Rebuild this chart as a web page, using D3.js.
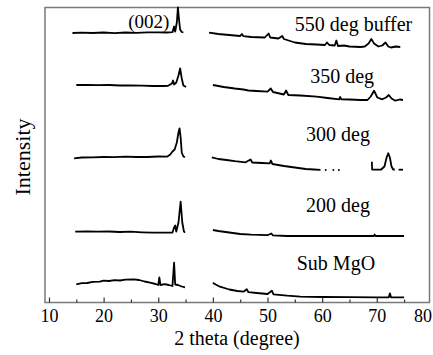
<!DOCTYPE html>
<html>
<head>
<meta charset="utf-8">
<script src="https://cdn.jsdelivr.net/npm/d3@7"></script>
<style>
  html, body { margin: 0; padding: 0; background: #fff; }
  svg { display: block; }
  svg text { font-family: "Liberation Serif", "Times New Roman", serif; fill: #000; }
</style>
</head>
<body>
<svg id="xrd" width="433" height="355"></svg>
<script>
// 2 theta (deg) / intensity (a.u., patterns stacked with offsets)
const sample550 = [
  [[14.3, 269.5], [16, 269.8], [18, 269.5], [20, 270], [22, 269.4], [24, 270], [26, 269.7], [28, 270.1],
   [30, 270.2], [31.5, 270], [32.6, 270.3], [32.9, 276], [33.1, 271], [33.4, 280], [33.6, 295],
   [33.8, 283], [34.0, 273], [34.3, 270.5], [34.6, 270]],
  [[39.3, 269.8], [41, 268.5], [43, 267.5], [45, 266.5], [45.3, 268.5], [45.6, 266.3], [47, 265.5],
   [49.5, 265], [50.2, 269], [50.5, 265], [52, 264], [52.7, 266.5], [53, 263.5], [55, 260], [57, 258.5],
   [59, 258], [60.5, 257.5], [60.9, 260], [61.3, 257.5], [62.3, 257], [62.6, 262], [62.9, 256.5],
   [64, 257], [65, 256], [67, 255.5], [67.8, 256], [68.5, 259], [69, 263.5], [69.5, 259], [70.3, 256],
   [71, 257], [71.6, 260], [72.1, 256], [72.6, 255], [73.5, 256], [74.3, 255.5]]
];
const sample350 = [
  [[15, 217.5], [17, 217.6], [19, 217.3], [21, 217.5], [23, 217], [25, 217.2], [27, 216.8], [29, 216.5],
   [31, 216.5], [31.8, 216.7], [32.5, 219], [32.7, 222], [32.9, 218], [33.3, 220], [33.7, 227],
   [34.0, 234], [34.3, 224], [34.6, 217], [35.1, 215.5]],
  [[40, 217.5], [42, 215.5], [44, 214], [45.6, 213], [46.5, 212], [48, 211.5], [50, 210.8], [50.6, 214],
   [51, 210.5], [53, 208], [53.4, 212], [53.8, 207.5], [56, 207], [59, 205.8], [61, 204.5], [63.1, 203.2],
   [63.3, 205.5], [63.5, 203.2], [65, 203], [67, 202.5], [68.3, 202.5], [68.9, 206], [69.5, 211.8],
   [70.1, 205], [71, 203.2], [71.7, 205], [72.2, 207.5], [72.7, 204], [73.4, 201.8], [74.2, 203], [74.8, 202.5]]
];
const sample300 = [
  [[14.6, 144.2], [16, 145], [18, 145.2], [20, 145.5], [22, 145.3], [24, 145.8], [26, 145.5], [28, 145.5],
   [30, 146], [31.6, 145.8], [32.2, 148], [32.6, 151], [33.0, 153], [33.4, 160], [33.7, 170], [33.9, 174.2],
   [34.1, 165], [34.3, 150], [34.6, 146], [34.9, 145.2]],
  [[39.8, 145.2], [41, 143.5], [42.5, 142.5], [44, 141.3], [46, 140.2], [46.9, 143], [47.2, 140], [49, 139.5],
   [50.4, 139.2], [50.6, 142], [50.9, 138.5], [53, 136.5], [55, 135], [57, 133.5], [58.5, 133], [59.7, 132.6]],
  [[60.5, 132.5], [60.8, 132.5]],
  [[61.9, 132.5], [62.2, 132.5]],
  [[62.9, 132.5], [63.2, 132.5]],
  [[69.1, 140.8], [69.15, 133], [70.0, 132.8], [70.8, 133], [71.4, 136], [71.8, 145], [72.1, 149.2],
   [72.4, 145], [72.7, 136], [73.0, 133], [73.3, 133]],
  [[74.0, 132.8], [74.8, 132.8]]
];
const sample200 = [
  [[14.8, 70.8], [17, 71], [19, 70.8], [21, 71], [23, 70.5], [25, 70.8], [27, 70.2], [29, 69.8], [31, 69.8],
   [32.6, 70], [32.9, 75], [33.1, 77], [33.3, 71], [33.7, 80], [34.1, 100.8], [34.4, 80], [34.7, 71], [34.9, 69.8]],
  [[40, 72.5], [41, 71.5], [43, 70], [45, 68.5], [47, 67.8], [50, 67.3], [50.7, 69], [51, 67.2], [53.6, 66.5],
   [56, 66.5], [60, 66.5], [65, 66.5], [69.5, 66.5], [69.6, 68], [69.8, 66.5], [75, 66.5]]
];
const sampleMgO = [
  [[15, 18.2], [16, 19.3], [17, 19.5], [18, 20.6], [19.3, 20.8], [20, 21.8], [21, 21.5], [22, 22.4], [23, 22],
   [24, 22.8], [25.5, 23.2], [26.5, 22.5], [27.5, 21], [28.5, 19.8], [29.5, 18.5], [30.0, 17.5], [30.2, 25.2],
   [30.4, 17.5], [31.2, 18.4], [31.9, 17.5], [32.6, 16.5], [32.9, 39.8], [33.1, 18], [33.6, 17.5],
   [34.3, 16], [34.9, 15.2]],
  [[40, 19.8], [40.5, 18], [41.3, 15.8], [43, 13], [44.5, 11.5], [45.6, 10.8], [46.2, 13.2], [46.5, 10.3],
   [48, 9.5], [50, 8.5], [50.8, 11.8], [51.1, 8.2], [53.6, 6.8], [56, 5.8], [60, 5.5], [65, 5.3], [70, 5.2],
   [72.2, 5.2], [72.4, 9.2], [72.6, 5.2], [75, 5.2]]
];

const patterns = [sample550, sample350, sample300, sample200, sampleMgO];
const sampleLabels = ["550 deg buffer", "350 deg", "300 deg", "200 deg", "Sub MgO"];
// label anchor: [2 theta, intensity]
const labelPos = [[55.0, 271.5], [57.8, 219.5], [57.05, 161.5], [57.05, 91], [55.35, 32.5]];
const peakLabel = { text: "(002)", at: [24.5, 274.5] };

const majorTicks = [10, 20, 30, 40, 50, 60, 70, 80];
const minorTicks = [15, 25, 35, 45, 55, 65, 75];

const svg = d3.select("#xrd");
const plotLeft = 45, plotRight = 429.5, plotTop = 7.5, plotBottom = 302.5;

const x = d3.scaleLinear().domain([9.27, 79.65]).range([plotLeft, plotRight]);
const y = d3.scaleLinear().domain([0, 295]).range([plotBottom, plotTop]);

// frame
svg.append("rect")
  .attr("x", plotLeft).attr("y", plotTop)
  .attr("width", plotRight - plotLeft).attr("height", plotBottom - plotTop)
  .attr("fill", "none").attr("stroke", "#7a7a7a").attr("stroke-width", 1.5);

const line = d3.line().x((d) => x(d[0])).y((d) => y(d[1]));

const curves = svg.append("g")
  .attr("fill", "none").attr("stroke", "#000")
  .attr("stroke-width", 1.8).attr("stroke-linejoin", "round");

patterns.forEach((segments) => {
  segments.forEach((seg) => {
    curves.append("path").attr("d", line(seg));
  });
});

// x axis, ticks pointing inward
const xAxis = svg.append("g")
  .attr("transform", `translate(0, ${plotBottom})`)
  .call(d3.axisBottom(x).tickValues(majorTicks).tickSizeInner(-5).tickSizeOuter(0).tickPadding(7));
xAxis.select(".domain").remove();
xAxis.selectAll(".tick line").attr("stroke", "#333").attr("stroke-width", 1.2);
xAxis.selectAll(".tick text")
  .attr("font-size", 18)
  .attr("dx", (d) => (d === 80 ? -9 : 0));
xAxis.selectAll(".tick").filter((d) => d === 80).select("line").remove();

const xMinor = svg.append("g")
  .attr("transform", `translate(0, ${plotBottom})`)
  .call(d3.axisBottom(x).tickValues(minorTicks).tickSizeInner(-3).tickSizeOuter(0).tickFormat(""));
xMinor.select(".domain").remove();
xMinor.selectAll(".tick line").attr("stroke", "#333").attr("stroke-width", 1.2);

// labels
svg.append("g").selectAll("text")
  .data(sampleLabels)
  .join("text")
  .attr("x", (d, i) => x(labelPos[i][0]))
  .attr("y", (d, i) => y(labelPos[i][1]))
  .attr("font-size", 20)
  .text((d) => d);

svg.append("text")
  .attr("x", x(peakLabel.at[0]))
  .attr("y", y(peakLabel.at[1]))
  .attr("font-size", 19)
  .text(peakLabel.text);

svg.append("text")
  .attr("x", 237).attr("y", 345)
  .attr("text-anchor", "middle")
  .attr("font-size", 20)
  .text("2 theta (degree)");

svg.append("text")
  .attr("transform", "translate(30, 157) rotate(-90)")
  .attr("text-anchor", "middle")
  .attr("font-size", 22)
  .text("Intensity");
</script>
</body>
</html>
